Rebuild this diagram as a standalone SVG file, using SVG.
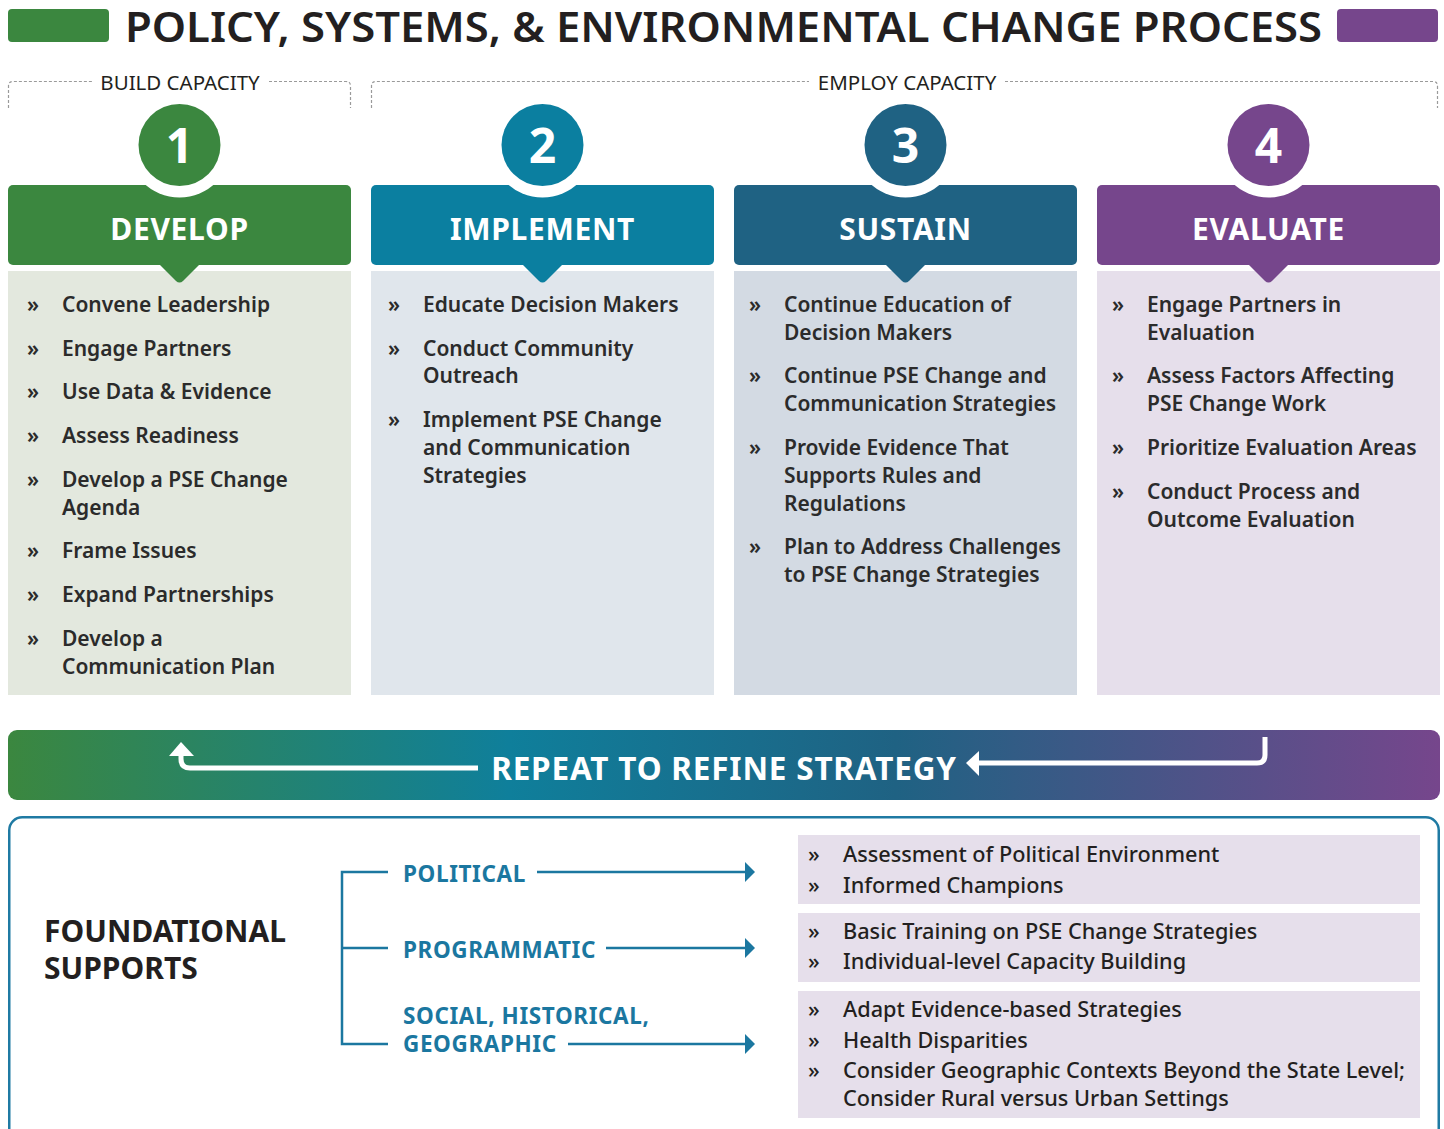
<svg xmlns="http://www.w3.org/2000/svg" width="1444" height="1129" viewBox="0 0 1444 1129">
<defs>
<linearGradient id="rep" x1="0" y1="0" x2="1" y2="0">
<stop offset="0" stop-color="#3b873f"/>
<stop offset="0.35" stop-color="#0f7f9b"/>
<stop offset="0.62" stop-color="#1f6283"/>
<stop offset="1" stop-color="#76468c"/>
</linearGradient>
</defs>
<style>
text{font-family:"Noto Sans","Open Sans","Liberation Sans",sans-serif;}
.title{font-size:41px;font-weight:600;fill:#231f20;}
.cap{font-size:20.5px;font-weight:400;fill:#231f20;}
.dash{fill:none;stroke:#9a9a9a;stroke-width:1.2;stroke-dasharray:3 2;}
.hd{font-size:30px;font-weight:700;fill:#fff;text-anchor:middle;letter-spacing:0.7px;}
.num{font-size:48px;font-weight:700;fill:#fff;text-anchor:middle;}
.it{font-size:21px;font-weight:600;fill:#2b2b2b;}
.bl{font-size:21px;font-weight:600;fill:#2b2b2b;}
.fs{font-size:30px;font-weight:700;fill:#231f20;}
.lab{font-size:22.5px;font-weight:700;fill:#1b77a0;letter-spacing:0.6px;}
.ln{fill:none;stroke:#1b77a0;stroke-width:2.5;}
.sup{font-size:21.7px;font-weight:500;fill:#231f20;}
</style>

<g id="title">
<rect x="8" y="9" width="101" height="33" rx="4" fill="#3b873f"/>
<rect x="1337" y="9" width="101" height="33" rx="4" fill="#76468c"/>
<text class="title" x="125" y="42" textLength="1197" lengthAdjust="spacingAndGlyphs">POLICY, SYSTEMS, &amp; ENVIRONMENTAL CHANGE PROCESS</text>
</g>

<g id="build-capacity">
<path class="dash" d="M8.5,108 V86 Q8.5,81.5 13,81.5 H92"/>
<path class="dash" d="M269,81.5 H346 Q350.5,81.5 350.5,86 V108"/>
<text class="cap" x="180" y="90" text-anchor="middle">BUILD CAPACITY</text>
</g>
<g id="employ-capacity">
<path class="dash" d="M371.5,108 V86 Q371.5,81.5 376,81.5 H809"/>
<path class="dash" d="M1005,81.5 H1433 Q1437.5,81.5 1437.5,86 V108"/>
<text class="cap" x="907" y="90" text-anchor="middle">EMPLOY CAPACITY</text>
</g>

<g id="develop">
<rect x="8" y="271" width="343" height="424" fill="#e3e8de"/>
<rect x="8" y="185" width="343" height="80" rx="5" fill="#3b873f"/>
<path d="M159,264 L176,281 Q179.5,284 183,281 L200,264 z" fill="#3b873f"/>
<circle cx="179.5" cy="145" r="52.5" fill="#fff"/>
<circle cx="179.5" cy="145" r="41" fill="#3b873f"/>
<text class="num" x="179.5" y="163">1</text>
<text class="hd" x="179.5" y="240">DEVELOP</text>
<g class="bl"><text x="27" y="312">»</text><text x="27" y="356">»</text><text x="27" y="399">»</text><text x="27" y="443">»</text><text x="27" y="487">»</text><text x="27" y="558">»</text><text x="27" y="602">»</text><text x="27" y="646">»</text></g>
<text class="it" x="62" y="312">Convene Leadership</text>
<text class="it" x="62" y="356">Engage Partners</text>
<text class="it" x="62" y="399">Use Data &amp; Evidence</text>
<text class="it" x="62" y="443">Assess Readiness</text>
<text class="it" x="62" y="487">Develop a PSE Change</text>
<text class="it" x="62" y="515">Agenda</text>
<text class="it" x="62" y="558">Frame Issues</text>
<text class="it" x="62" y="602">Expand Partnerships</text>
<text class="it" x="62" y="646">Develop a</text>
<text class="it" x="62" y="674">Communication Plan</text>
</g>

<g id="implement">
<rect x="371" y="271" width="343" height="424" fill="#e0e6ec"/>
<rect x="371" y="185" width="343" height="80" rx="5" fill="#0b7fa0"/>
<path d="M522,264 L539,281 Q542.5,284 546,281 L563,264 z" fill="#0b7fa0"/>
<circle cx="542.5" cy="145" r="52.5" fill="#fff"/>
<circle cx="542.5" cy="145" r="41" fill="#0b7fa0"/>
<text class="num" x="542.5" y="163">2</text>
<text class="hd" x="542.5" y="240">IMPLEMENT</text>
<g class="bl"><text x="388" y="312">»</text><text x="388" y="356">»</text><text x="388" y="427">»</text></g>
<text class="it" x="423" y="312">Educate Decision Makers</text>
<text class="it" x="423" y="356">Conduct Community</text>
<text class="it" x="423" y="383">Outreach</text>
<text class="it" x="423" y="427">Implement PSE Change</text>
<text class="it" x="423" y="455">and Communication</text>
<text class="it" x="423" y="483">Strategies</text>
</g>

<g id="sustain">
<rect x="734" y="271" width="343" height="424" fill="#d3dae3"/>
<rect x="734" y="185" width="343" height="80" rx="5" fill="#1f6283"/>
<path d="M885,264 L902,281 Q905.5,284 909,281 L926,264 z" fill="#1f6283"/>
<circle cx="905.5" cy="145" r="52.5" fill="#fff"/>
<circle cx="905.5" cy="145" r="41" fill="#1f6283"/>
<text class="num" x="905.5" y="163">3</text>
<text class="hd" x="905.5" y="240">SUSTAIN</text>
<g class="bl"><text x="749" y="312">»</text><text x="749" y="383">»</text><text x="749" y="455">»</text><text x="749" y="554">»</text></g>
<text class="it" x="784" y="312">Continue Education of</text>
<text class="it" x="784" y="340">Decision Makers</text>
<text class="it" x="784" y="383">Continue PSE Change and</text>
<text class="it" x="784" y="411">Communication Strategies</text>
<text class="it" x="784" y="455">Provide Evidence That</text>
<text class="it" x="784" y="483">Supports Rules and</text>
<text class="it" x="784" y="511">Regulations</text>
<text class="it" x="784" y="554">Plan to Address Challenges</text>
<text class="it" x="784" y="582">to PSE Change Strategies</text>
</g>

<g id="evaluate">
<rect x="1097" y="271" width="343" height="424" fill="#e6dfeb"/>
<rect x="1097" y="185" width="343" height="80" rx="5" fill="#76468c"/>
<path d="M1248,264 L1265,281 Q1268.5,284 1272,281 L1289,264 z" fill="#76468c"/>
<circle cx="1268.5" cy="145" r="52.5" fill="#fff"/>
<circle cx="1268.5" cy="145" r="41" fill="#76468c"/>
<text class="num" x="1268.5" y="163">4</text>
<text class="hd" x="1268.5" y="240">EVALUATE</text>
<g class="bl"><text x="1112" y="312">»</text><text x="1112" y="383">»</text><text x="1112" y="455">»</text><text x="1112" y="499">»</text></g>
<text class="it" x="1147" y="312">Engage Partners in</text>
<text class="it" x="1147" y="340">Evaluation</text>
<text class="it" x="1147" y="383">Assess Factors Affecting</text>
<text class="it" x="1147" y="411">PSE Change Work</text>
<text class="it" x="1147" y="455">Prioritize Evaluation Areas</text>
<text class="it" x="1147" y="499">Conduct Process and</text>
<text class="it" x="1147" y="527">Outcome Evaluation</text>
</g>

<g id="repeat">
<rect x="8" y="730" width="1432" height="70" rx="9" fill="url(#rep)"/>
<text x="724" y="780" text-anchor="middle" style="font-size:31.5px;font-weight:700;fill:#fff;letter-spacing:0.8px">REPEAT TO REFINE STRATEGY</text>
</g>

<g id="connectors">
<path d="M478,768 H190 Q181,768 181,759 V752" fill="none" stroke="#fff" stroke-width="5"/>
<path d="M169,756 L181,742 L194,756 z" fill="#fff"/>
<path d="M1265,737 V755 Q1265,763 1257,763 H978" fill="none" stroke="#fff" stroke-width="5"/>
<path d="M979,751 L966,763 L979,776 z" fill="#fff"/>
<path class="ln" d="M388,872 H342 V1044 H388 M342,948 H388"/>
<path class="ln" d="M537,872 H746"/>
<path d="M745,862 L755,872 L745,882 z" fill="#1b77a0"/>
<path class="ln" d="M606,948 H746"/>
<path d="M745,938 L755,948 L745,958 z" fill="#1b77a0"/>
<path class="ln" d="M568,1044 H746"/>
<path d="M745,1034 L755,1044 L745,1054 z" fill="#1b77a0"/>
</g>

<g id="foundational-supports">
<rect x="9.25" y="817.25" width="1429.5" height="330" rx="13" fill="none" stroke="#1f7aa3" stroke-width="2.5"/>
<text class="fs" x="44" y="942">FOUNDATIONAL</text>
<text class="fs" x="44" y="979">SUPPORTS</text>
</g>

<g id="political">
<text class="lab" x="403" y="882">POLITICAL</text>
<rect x="798" y="835" width="622" height="69" fill="#e6dfeb"/>
<text class="sup" x="808" y="862">»</text><text class="sup" x="843" y="862">Assessment of Political Environment</text>
<text class="sup" x="808" y="893">»</text><text class="sup" x="843" y="893">Informed Champions</text>
</g>
<g id="programmatic">
<text class="lab" x="403" y="958">PROGRAMMATIC</text>
<rect x="798" y="913" width="622" height="69" fill="#e6dfeb"/>
<text class="sup" x="808" y="939">»</text><text class="sup" x="843" y="939">Basic Training on PSE Change Strategies</text>
<text class="sup" x="808" y="969">»</text><text class="sup" x="843" y="969">Individual-level Capacity Building</text>
</g>
<g id="social">
<text class="lab" x="403" y="1024">SOCIAL, HISTORICAL,</text>
<text class="lab" x="403" y="1052">GEOGRAPHIC</text>
<rect x="798" y="991" width="622" height="127" fill="#e6dfeb"/>
<text class="sup" x="808" y="1017">»</text><text class="sup" x="843" y="1017">Adapt Evidence-based Strategies</text>
<text class="sup" x="808" y="1048">»</text><text class="sup" x="843" y="1048">Health Disparities</text>
<text class="sup" x="808" y="1078">»</text><text class="sup" x="843" y="1078">Consider Geographic Contexts Beyond the State Level;</text>
<text class="sup" x="843" y="1106">Consider Rural versus Urban Settings</text>
</g>
</svg>
